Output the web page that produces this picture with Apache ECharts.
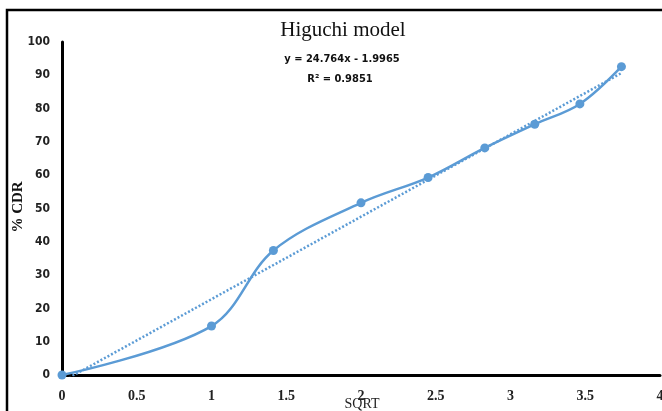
<!DOCTYPE html>
<html>
<head>
<meta charset="utf-8">
<script src="https://cdn.jsdelivr.net/npm/echarts@6/dist/echarts.min.js"></script>
<style>
  html, body { margin: 0; padding: 0; background: #fff; }
  #chart { width: 662px; height: 411px; }
</style>
</head>
<body>
<div id="chart"></div>
<script>
// Square root of time (x) against cumulative drug release (%)
const sqrtTime = [0, 1, 1.414, 2, 2.449, 2.828, 3.162, 3.464, 3.742];
const cdr = [0, 14.7, 37.4, 51.7, 59.3, 68.2, 75.3, 81.4, 92.6];

// Linear trendline coefficients
const slope = 24.764;
const intercept = -1.9965;
const rSquared = 0.9851;

const xTicks = [0, 0.5, 1, 1.5, 2, 2.5, 3, 3.5, 4];
const yTicks = [0, 10, 20, 30, 40, 50, 60, 70, 80, 90, 100];

const xMin = Math.min(...sqrtTime);
const xMax = Math.max(...sqrtTime);
const trend = [xMin, xMax].map(x => [x, slope * x + intercept]);

const blue = '#5B9BD5';
const narrow = '"DejaVu Sans Condensed", Roboto, sans-serif';
const chart = echarts.init(document.getElementById('chart'));

chart.setOption({
  animation: false,
  graphic: [{
    type: 'polyline',
    shape: { points: [[7, 420], [7, 10], [662, 10]] },
    style: { stroke: '#000', lineWidth: 2.5, fill: null }
  }, {
    type: 'text',
    x: 343, y: 30,
    style: {
      text: 'Higuchi model', align: 'center', verticalAlign: 'middle',
      font: '21px "Liberation Serif"', fill: '#111'
    }
  }, {
    type: 'text',
    x: 342, y: 59,
    style: {
      text: 'y = 24.764x - 1.9965', align: 'center', verticalAlign: 'middle',
      font: 'bold 11px ' + narrow, fill: '#111'
    }
  }, {
    type: 'text',
    x: 340, y: 79,
    style: {
      text: 'R² = ' + rSquared, align: 'center', verticalAlign: 'middle',
      font: 'bold 11px ' + narrow, fill: '#111'
    }
  }, {
    // x-axis title
    type: 'text',
    x: 362, y: 404,
    style: {
      text: 'SQRT', align: 'center', verticalAlign: 'middle',
      font: '14px "Liberation Serif"', fill: '#222'
    }
  }, {
    // y-axis title
    type: 'text',
    x: 18, y: 207,
    rotation: Math.PI / 2,
    style: {
      text: '% CDR', align: 'center', verticalAlign: 'middle',
      font: 'bold 15px "Liberation Serif"', fill: '#111'
    }
  }],
  grid: { left: 62, right: 2, top: 42, bottom: 36, outerBoundsMode: 'none' },
  xAxis: {
    type: 'value',
    min: xTicks[0],
    max: xTicks[xTicks.length - 1],
    interval: 0.5,
    axisLine: { show: true, lineStyle: { color: '#000', width: 3 } },
    axisTick: { show: false },
    splitLine: { show: false },
    axisLabel: { margin: 14, fontFamily: 'Liberation Serif', fontSize: 14, fontWeight: 'bold', color: '#222', showMaxLabel: true }
  },
  yAxis: {
    type: 'value',
    min: yTicks[0],
    max: yTicks[yTicks.length - 1],
    interval: 10,
    axisLine: { show: true, lineStyle: { color: '#000', width: 3 } },
    axisTick: { show: false },
    splitLine: { show: false },
    axisLabel: { margin: 12, fontFamily: narrow, fontSize: 12, fontWeight: 'bold', color: '#222' }
  },
  series: [{
    type: 'line',
    data: trend,
    symbol: 'none',
    lineStyle: { color: blue, width: 2.5, type: [2, 2] },
    z: 1
  }, {
    type: 'line',
    data: sqrtTime.map((x, i) => [x, cdr[i]]),
    smooth: 0.35,
    symbol: 'circle',
    symbolSize: 9,
    itemStyle: { color: blue },
    lineStyle: { color: blue, width: 2.5 },
    z: 2
  }]
});
</script>
</body>
</html>
